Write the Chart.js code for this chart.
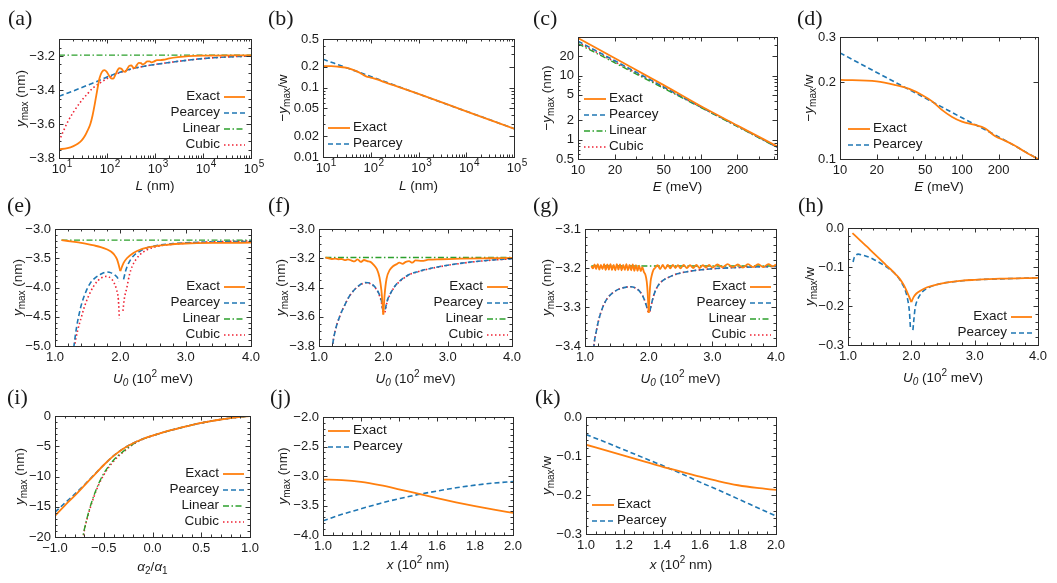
<!DOCTYPE html>
<html><head><meta charset="utf-8">
<script src="https://cdn.jsdelivr.net/npm/chart.js@4"></script>
<style>
html,body{margin:0;padding:0;background:#fff;}
body{width:1057px;height:583px;position:relative;overflow:hidden;}
canvas{position:absolute;}
</style></head><body>
<script>
// ---------------- DATA ----------------
// tick values / labels
const decTicks = [10, 100, 1000, 10000, 100000];
const decLabels = ['10','10','10','10','10'];
const decExp = ['1','2','3','4','5'];
const aYTicks = [-3.8,-3.6,-3.4,-3.2];
const aYLabels = ['−3.8','−3.6','−3.4','−3.2'];
const bYTicks = [0.01,0.02,0.05,0.1,0.2,0.5];
const bYLabels = ['0.01','0.02','0.05','0.1','0.2','0.5'];
const eTicks = [10,20,50,100,200];
const eLabels = ['10','20','50','100','200'];
const cYTicks = [0.5,1,2,5,10,20];
const cYLabels = ['0.5','1','2','5','10','20'];
const dYTicks = [0.1,0.2,0.3];
const dYLabels = ['0.1','0.2','0.3'];
const uTicks = [1,2,3,4];
const uLabels = ['1.0','2.0','3.0','4.0'];
const eYTicks = [-5,-4.5,-4,-3.5,-3];
const eYLabels = ['−5.0','−4.5','−4.0','−3.5','−3.0'];
const fYTicks = [-3.8,-3.6,-3.4,-3.2,-3.0];
const fYLabels = ['−3.8','−3.6','−3.4','−3.2','−3.0'];
const gYTicks = [-3.4,-3.3,-3.2,-3.1];
const gYLabels = ['−3.4','−3.3','−3.2','−3.1'];
const hYTicks = [-0.3,-0.2,-0.1,0];
const hYLabels = ['−0.3','−0.2','−0.1','0.0'];
const iXTicks = [-1,-0.5,0,0.5,1];
const iXLabels = ['−1.0','−0.5','0.0','0.5','1.0'];
const iYTicks = [-20,-15,-10,-5,0];
const iYLabels = ['−20','−15','−10','−5','0'];
const jXTicks = [1,1.2,1.4,1.6,1.8,2];
const jXLabels = ['1.0','1.2','1.4','1.6','1.8','2.0'];
const jYTicks = [-4,-3.5,-3,-2.5,-2];
const jYLabels = ['−4.0','−3.5','−3.0','−2.5','−2.0'];

// (a)
const aExact = [[10,-3.749],[15,-3.742],[20,-3.73],[25,-3.715],[30,-3.695],[35,-3.668],[40,-3.635],[45,-3.6],[50,-3.55],[55,-3.49],[60,-3.43],[65,-3.375],[70,-3.33],[78,-3.295],[88,-3.283],[98,-3.292],[110,-3.315],[122,-3.332],[135,-3.333],[150,-3.31],[165,-3.285],[180,-3.272],[200,-3.275],[220,-3.29],[240,-3.293],[265,-3.275],[290,-3.258],[320,-3.255],[350,-3.267],[380,-3.27],[420,-3.252],[460,-3.24],[510,-3.242],[560,-3.25],[620,-3.242],[690,-3.232],[770,-3.232],[860,-3.238],[960,-3.232],[1100,-3.224],[1300,-3.224],[1500,-3.222],[2000,-3.214],[3000,-3.207],[5000,-3.201],[10000,-3.198],[100000,-3.196]];
const aPearcey = [[10,-3.437],[20,-3.405],[30,-3.385],[50,-3.36],[70,-3.343],[100,-3.323],[150,-3.305],[200,-3.293],[300,-3.278],[600,-3.26],[1000,-3.25],[2000,-3.238],[5000,-3.224],[10000,-3.215],[30000,-3.206],[100000,-3.2]];
const aLinear = [[10,-3.195],[100000,-3.195]];
const aCubic = [[10,-3.70],[12,-3.65],[15,-3.59],[20,-3.53],[30,-3.46],[40,-3.42],[50,-3.39],[70,-3.36],[100,-3.333],[150,-3.308],[200,-3.295],[300,-3.279],[600,-3.26],[1000,-3.25],[2000,-3.238],[5000,-3.224],[10000,-3.215],[30000,-3.206],[100000,-3.2]];
// (b)
const bExact = [[10,0.204],[15,0.203],[20,0.2],[30,0.193],[40,0.183],[50,0.172],[60,0.162],[70,0.152],[80,0.145],[100,0.139],[130,0.132],[170,0.124],[220,0.116],[300,0.108],[500,0.0955],[1000,0.081],[10000,0.0455],[100000,0.0256]];
const bPearcey = [[10,0.256],[100,0.144],[1000,0.081],[10000,0.0455],[100000,0.0256]];
// (c)
const cExact = [[10,38.5],[20,18.6],[50,7.1],[100,3.35],[200,1.66],[420,0.79]];
const cPearcey = [[10,34.5],[20,17.0],[50,6.65],[100,3.27],[200,1.63],[420,0.77]];
const cLinear = [[10,31.5],[20,15.8],[50,6.35],[100,3.2],[200,1.6],[420,0.76]];
const cCubic = [[10,33],[20,16.4],[50,6.5],[100,3.24],[200,1.62],[420,0.77]];
// (d)
const dExact = [[10,0.204],[20,0.201],[28,0.195],[37,0.188],[47,0.178],[57,0.168],[68,0.156],[83,0.146],[100,0.140],[128,0.136],[154,0.132],[186,0.123],[225,0.118],[270,0.113],[325,0.107],[420,0.100]];
const dPearcey = [[10,0.26],[20,0.218],[50,0.173],[100,0.145],[200,0.122],[420,0.1]];
// (e)
const eExactL = [[1.1,-3.19],[1.2,-3.205],[1.3,-3.22],[1.4,-3.237],[1.5,-3.258],[1.6,-3.282],[1.7,-3.31],[1.8,-3.35],[1.85,-3.38],[1.9,-3.43],[1.95,-3.52],[2.0,-3.72]];
const eExactR = [[2.0,-3.72],[2.05,-3.58],[2.1,-3.5],[2.2,-3.41],[2.3,-3.355],[2.5,-3.3],[2.7,-3.27],[3.0,-3.248],[3.5,-3.237],[4.0,-3.234]];
const ePearceyL = [[1.26,-5.3],[1.29,-5.0],[1.33,-4.68],[1.37,-4.45],[1.41,-4.27],[1.47,-4.08],[1.54,-3.925],[1.61,-3.84],[1.69,-3.78],[1.79,-3.735],[1.86,-3.75],[1.92,-3.79],[1.96,-3.84],[1.98,-3.9]];
const ePearceyR = [[2.05,-3.86],[2.08,-3.72],[2.12,-3.6],[2.2,-3.46],[2.3,-3.38],[2.4,-3.325],[2.6,-3.275],[2.8,-3.25],[3.0,-3.235],[3.5,-3.22],[4.0,-3.212]];
const eLinear = [[1.1,-3.19],[4.0,-3.19]];
const eCubicL = [[1.27,-5.3],[1.3,-5.0],[1.35,-4.72],[1.4,-4.52],[1.45,-4.33],[1.52,-4.13],[1.59,-3.98],[1.66,-3.88],[1.74,-3.82],[1.8,-3.81],[1.86,-3.85],[1.9,-3.91],[1.94,-4.03],[1.97,-4.21],[1.985,-4.53]];
const eCubicR = [[2.04,-4.4],[2.06,-4.2],[2.1,-4.0],[2.14,-3.78],[2.18,-3.64],[2.24,-3.52],[2.3,-3.44],[2.4,-3.36],[2.56,-3.3],[2.8,-3.26],[3.0,-3.243],[3.5,-3.215],[4.0,-3.205]];
// (f)
const fExactL = [[1.1,-3.195],[1.15,-3.2],[1.2,-3.205],[1.25,-3.203],[1.3,-3.207],[1.35,-3.205],[1.4,-3.213],[1.45,-3.208],[1.5,-3.215],[1.55,-3.222],[1.6,-3.208],[1.65,-3.225],[1.7,-3.212],[1.75,-3.22],[1.8,-3.225],[1.85,-3.245],[1.9,-3.275],[1.94,-3.33],[1.97,-3.42],[2.0,-3.585]];
const fExactR = [[2.0,-3.585],[2.02,-3.45],[2.05,-3.34],[2.1,-3.28],[2.15,-3.255],[2.2,-3.242],[2.25,-3.23],[2.3,-3.238],[2.35,-3.225],[2.4,-3.22],[2.45,-3.23],[2.5,-3.215],[2.6,-3.218],[2.7,-3.21],[2.9,-3.207],[3.2,-3.203],[3.6,-3.2],[4.0,-3.198]];
const fPearceyL = [[1.18,-3.95],[1.21,-3.8],[1.25,-3.7],[1.32,-3.6],[1.4,-3.52],[1.48,-3.454],[1.55,-3.415],[1.63,-3.384],[1.72,-3.366],[1.8,-3.372],[1.87,-3.396],[1.93,-3.44],[1.97,-3.49],[1.99,-3.55]];
const fPearceyR = [[2.03,-3.55],[2.06,-3.49],[2.1,-3.45],[2.15,-3.41],[2.2,-3.38],[2.3,-3.34],[2.41,-3.31],[2.55,-3.29],[2.67,-3.276],[2.9,-3.255],[3.19,-3.235],[3.6,-3.215],[4.0,-3.203]];
const fLinear = [[1.1,-3.195],[4.0,-3.195]];
const fCubicL = [[1.18,-3.95],[1.21,-3.8],[1.25,-3.7],[1.32,-3.6],[1.4,-3.52],[1.48,-3.455],[1.55,-3.416],[1.63,-3.386],[1.72,-3.368],[1.8,-3.374],[1.87,-3.4],[1.93,-3.445],[1.97,-3.5],[1.995,-3.57]];
const fCubicR = [[2.025,-3.57],[2.06,-3.495],[2.1,-3.452],[2.15,-3.412],[2.2,-3.382],[2.3,-3.342],[2.41,-3.311],[2.55,-3.291],[2.67,-3.277],[2.9,-3.256],[3.19,-3.236],[3.6,-3.216],[4.0,-3.204]];
// (g)
const gExactL = [[1.1,-3.195],[1.125,-3.201],[1.15,-3.191],[1.175,-3.203],[1.2,-3.19],[1.225,-3.204],[1.25,-3.192],[1.275,-3.203],[1.3,-3.19],[1.325,-3.205],[1.35,-3.191],[1.375,-3.204],[1.4,-3.19],[1.425,-3.205],[1.45,-3.192],[1.475,-3.206],[1.5,-3.19],[1.525,-3.204],[1.55,-3.191],[1.575,-3.206],[1.6,-3.192],[1.625,-3.205],[1.65,-3.19],[1.675,-3.206],[1.7,-3.192],[1.725,-3.206],[1.75,-3.191],[1.775,-3.207],[1.8,-3.193],[1.825,-3.207],[1.85,-3.194],[1.875,-3.208],[1.9,-3.198],[1.925,-3.21],[1.95,-3.218],[1.97,-3.235],[1.985,-3.265],[2.0,-3.315]];
const gExactR = [[2.0,-3.315],[2.015,-3.265],[2.03,-3.235],[2.05,-3.218],[2.075,-3.205],[2.1,-3.2],[2.14,-3.193],[2.18,-3.203],[2.22,-3.192],[2.26,-3.202],[2.3,-3.192],[2.34,-3.201],[2.38,-3.192],[2.42,-3.2],[2.46,-3.193],[2.5,-3.201],[2.55,-3.192],[2.6,-3.2],[2.65,-3.193],[2.7,-3.2],[2.75,-3.192],[2.8,-3.2],[2.85,-3.193],[2.9,-3.199],[2.95,-3.192],[3.0,-3.199],[3.08,-3.191],[3.16,-3.198],[3.24,-3.19],[3.32,-3.198],[3.4,-3.191],[3.48,-3.199],[3.56,-3.19],[3.64,-3.198],[3.72,-3.19],[3.8,-3.198],[3.88,-3.19],[3.95,-3.196],[4.0,-3.191]];
const gPearceyL = [[1.12,-3.45],[1.14,-3.4],[1.18,-3.36],[1.22,-3.33],[1.28,-3.3],[1.35,-3.278],[1.45,-3.262],[1.55,-3.253],[1.65,-3.249],[1.72,-3.248],[1.8,-3.252],[1.87,-3.262],[1.93,-3.28],[1.97,-3.3],[1.99,-3.31]];
const gPearceyR = [[2.02,-3.31],[2.04,-3.295],[2.08,-3.27],[2.13,-3.25],[2.2,-3.235],[2.3,-3.225],[2.45,-3.215],[2.7,-3.207],[3.0,-3.202],[3.5,-3.198],[4.0,-3.196]];
const gLinear = [[1.1,-3.195],[4.0,-3.195]];
const gCubicL = [[1.12,-3.45],[1.14,-3.4],[1.18,-3.36],[1.22,-3.33],[1.28,-3.3],[1.35,-3.278],[1.45,-3.262],[1.55,-3.253],[1.65,-3.249],[1.72,-3.248],[1.8,-3.252],[1.87,-3.262],[1.93,-3.28],[1.97,-3.3],[1.99,-3.312]];
const gCubicR = [[2.02,-3.312],[2.04,-3.296],[2.08,-3.27],[2.13,-3.25],[2.2,-3.235],[2.3,-3.225],[2.45,-3.215],[2.7,-3.207],[3.0,-3.202],[3.5,-3.198],[4.0,-3.196]];
// (h)
const hExactL = [[1.07,-0.013],[1.2,-0.033],[1.3,-0.048],[1.4,-0.064],[1.5,-0.079],[1.6,-0.095],[1.7,-0.11],[1.76,-0.12],[1.82,-0.131],[1.88,-0.146],[1.93,-0.163],[1.97,-0.178],[2.0,-0.19]];
const hExactR = [[2.0,-0.19],[2.04,-0.176],[2.08,-0.168],[2.15,-0.16],[2.25,-0.152],[2.4,-0.145],[2.6,-0.139],[2.8,-0.135],[3.0,-0.133],[3.4,-0.13],[4.0,-0.128]];
const hPearceyL = [[1.08,-0.087],[1.1,-0.075],[1.13,-0.069],[1.16,-0.067],[1.22,-0.069],[1.3,-0.073],[1.4,-0.08],[1.5,-0.089],[1.6,-0.099],[1.7,-0.111],[1.76,-0.12],[1.82,-0.133],[1.87,-0.147],[1.92,-0.168],[1.95,-0.19],[1.97,-0.215],[1.985,-0.255]];
const hPearceyR = [[2.025,-0.262],[2.04,-0.235],[2.06,-0.205],[2.1,-0.183],[2.18,-0.163],[2.3,-0.151],[2.45,-0.143],[2.7,-0.137],[3.0,-0.133],[3.5,-0.13],[4.0,-0.128]];
// (i)
const iExact = [[-1,-16.5],[-0.9,-14.8],[-0.8,-13.2],[-0.7,-11.5],[-0.6,-9.8],[-0.5,-8.1],[-0.4,-6.6],[-0.3,-5.4],[-0.2,-4.5],[-0.1,-3.8],[0,-3.25],[0.1,-2.75],[0.2,-2.3],[0.3,-1.9],[0.4,-1.5],[0.5,-1.15],[0.6,-0.85],[0.7,-0.58],[0.8,-0.35],[0.9,-0.15],[1,0]];
const iPearcey = [[-1,-15.9],[-0.9,-14.4],[-0.8,-12.95],[-0.7,-11.4],[-0.6,-9.75],[-0.5,-8.1],[-0.4,-6.6],[-0.3,-5.4],[-0.2,-4.5],[-0.1,-3.8],[0,-3.25],[0.1,-2.75],[0.2,-2.3],[0.3,-1.9],[0.4,-1.5],[0.5,-1.15],[0.6,-0.85],[0.7,-0.58],[0.8,-0.35],[0.9,-0.15],[1,0]];
const iLinear = [[-0.73,-21],[-0.715,-20],[-0.7,-18.8],[-0.65,-15.6],[-0.6,-13.1],[-0.55,-11.1],[-0.5,-9.5],[-0.45,-8.3],[-0.4,-7.3],[-0.35,-6.5],[-0.3,-5.85],[-0.2,-4.65],[-0.1,-3.82],[0,-3.25],[0.1,-2.75],[0.2,-2.3],[0.3,-1.9],[0.4,-1.5],[0.5,-1.15],[0.6,-0.85],[0.7,-0.58],[0.8,-0.35],[0.9,-0.15],[1,0]];
const iCubic = [[-0.725,-21],[-0.71,-20],[-0.7,-19],[-0.65,-15.8],[-0.6,-13.3],[-0.55,-11.3],[-0.5,-9.75],[-0.45,-8.5],[-0.4,-7.5],[-0.35,-6.65],[-0.3,-5.95],[-0.2,-4.7],[-0.1,-3.84],[0,-3.25],[0.1,-2.75],[0.2,-2.3],[0.3,-1.9],[0.4,-1.5],[0.5,-1.15],[0.6,-0.85],[0.7,-0.58],[0.8,-0.35],[0.9,-0.15],[1,0]];
// (j)
const jExact = [[1.0,-3.06],[1.1,-3.07],[1.2,-3.1],[1.3,-3.155],[1.4,-3.225],[1.5,-3.3],[1.6,-3.375],[1.7,-3.445],[1.8,-3.51],[1.9,-3.57],[2.0,-3.625]];
const jPearcey = [[1.0,-3.76],[1.1,-3.65],[1.2,-3.555],[1.3,-3.465],[1.4,-3.385],[1.5,-3.315],[1.6,-3.255],[1.7,-3.2],[1.8,-3.155],[1.9,-3.12],[2.0,-3.095]];
// (k)
const kExact = [[1.0,-0.071],[1.1,-0.085],[1.2,-0.099],[1.3,-0.113],[1.4,-0.127],[1.5,-0.14],[1.6,-0.153],[1.7,-0.165],[1.8,-0.175],[1.9,-0.182],[2.0,-0.187]];
const kPearcey = [[1.0,-0.045],[1.1,-0.064],[1.2,-0.084],[1.3,-0.104],[1.4,-0.124],[1.5,-0.145],[1.6,-0.167],[1.7,-0.188],[1.8,-0.21],[1.9,-0.232],[2.0,-0.254]];

// ---------------- STYLE ----------------
const FAM = '"Liberation Sans", Arial, Helvetica, sans-serif';
const SERIF = '"Liberation Serif", "Times New Roman", serif';
const TXT = '#1a1a1a';
const TICKF = 13, TITLEF = 13.5, LEGF = 13.5;
const STY = {
  exact:{c:'#ff7f0e',w:1.8,d:[]},
  pearcey:{c:'#1f77b4',w:1.6,d:[5,3]},
  linear:{c:'#2ca02c',w:1.4,d:[6,2.5,1.5,2.5]},
  cubic:{c:'#ee2233',w:1.6,d:[1.5,2.5]}
};
const NAMES = {exact:'Exact',pearcey:'Pearcey',linear:'Linear',cubic:'Cubic'};
const ALL4 = ['exact','pearcey','linear','cubic'];
const TWO = ['exact','pearcey'];

const T_YNM = [{t:'y',i:1},{t:'max',sub:1},{t:' (nm)'}];
const T_MYW = [{t:'−'},{t:'y',i:1},{t:'max',sub:1},{t:'/w'}];
const T_MYNM = [{t:'−'},{t:'y',i:1},{t:'max',sub:1},{t:' (nm)'}];
const T_YW = [{t:'y',i:1},{t:'max',sub:1},{t:'/w'}];
const T_L = [{t:'L',i:1},{t:' (nm)'}];
const T_E = [{t:'E',i:1},{t:' (meV)'}];
const T_U = [{t:'U',i:1},{t:'0',sub:1,i:1},{t:' (10'},{t:'2',sup:1},{t:' meV)'}];
const T_A = [{t:'α',i:1},{t:'2',sub:1},{t:'/'},{t:'α',i:1},{t:'1',sub:1}];
const T_X = [{t:'x',i:1},{t:' (10'},{t:'2',sup:1},{t:' nm)'}];

const panels = [
 {lab:'(a)', lp:[8,19], box:[59,39,251,158],
  x:{log:1,min:10,max:1e5,ticks:decTicks,labels:decLabels,sup:decExp},
  y:{min:-3.8,max:-3.1,ticks:aYTicks,labels:aYLabels,minor:0.05},
  series:[['exact',aExact],['pearcey',aPearcey],['linear',aLinear],['cubic',aCubic]],
  leg:{right:1,keys:ALL4,x:220,y:96}, xt:T_L, xtY:186, yt:T_YNM, ytX:21},
 {lab:'(b)', lp:[268,19], box:[323,39,514,157],
  x:{log:1,min:10,max:1e5,ticks:decTicks,labels:decLabels,sup:decExp},
  y:{log:1,min:0.01,max:0.5,ticks:bYTicks,labels:bYLabels},
  series:[['exact',bExact],['pearcey',bPearcey]],
  leg:{right:0,keys:TWO,x:328,y:127}, xt:T_L, xtY:186, yt:T_MYW, ytX:283},
 {lab:'(c)', lp:[533,19], box:[578,37,777,159],
  x:{log:1,min:10,max:420,ticks:eTicks,labels:eLabels},
  y:{log:1,min:0.5,max:40,ticks:cYTicks,labels:cYLabels},
  series:[['exact',cExact],['pearcey',cPearcey],['linear',cLinear],['cubic',cCubic]],
  leg:{right:0,keys:ALL4,x:584,y:98}, xt:T_E, xtY:187, yt:T_MYNM, ytX:547},
 {lab:'(d)', lp:[797,19], box:[840,37,1038,159],
  x:{log:1,min:10,max:420,ticks:eTicks,labels:eLabels},
  y:{log:1,min:0.1,max:0.3,ticks:dYTicks,labels:dYLabels},
  series:[['exact',dExact],['pearcey',dPearcey]],
  leg:{right:0,keys:TWO,x:848,y:128}, xt:T_E, xtY:187, yt:T_MYW, ytX:809},
 {lab:'(e)', lp:[7,206], box:[55,229,251,346],
  x:{min:1,max:4,ticks:uTicks,labels:uLabels,minor:0.2},
  y:{min:-5,max:-3,ticks:eYTicks,labels:eYLabels,minor:0.1},
  series:[['exact',eExactL],['exact',eExactR],['pearcey',ePearceyL],['pearcey',ePearceyR],['linear',eLinear],['cubic',eCubicL],['cubic',eCubicR]],
  leg:{right:1,keys:ALL4,x:220,y:286}, xt:T_U, xtY:379, yt:T_YNM, ytX:18},
 {lab:'(f)', lp:[268,206], box:[319,229,512,346],
  x:{min:1,max:4,ticks:uTicks,labels:uLabels,minor:0.2},
  y:{min:-3.8,max:-3.0,ticks:fYTicks,labels:fYLabels,minor:0.05},
  series:[['exact',fExactL],['exact',fExactR],['pearcey',fPearceyL],['pearcey',fPearceyR],['linear',fLinear],['cubic',fCubicL],['cubic',fCubicR]],
  leg:{right:1,keys:ALL4,x:483,y:286}, xt:T_U, xtY:379, yt:T_YNM, ytX:281},
 {lab:'(g)', lp:[533,206], box:[585,229,776,346],
  x:{min:1,max:4,ticks:uTicks,labels:uLabels,minor:0.2},
  y:{min:-3.4,max:-3.1,ticks:gYTicks,labels:gYLabels,minor:0.02},
  series:[['exact',gExactL],['exact',gExactR],['pearcey',gPearceyL],['pearcey',gPearceyR],['linear',gLinear],['cubic',gCubicL],['cubic',gCubicR]],
  leg:{right:1,keys:ALL4,x:746,y:286}, xt:T_U, xtY:379, yt:T_YNM, ytX:547},
 {lab:'(h)', lp:[798,206], box:[848,228,1038,345],
  x:{min:1,max:4,ticks:uTicks,labels:uLabels,minor:0.2},
  y:{min:-0.3,max:0,ticks:hYTicks,labels:hYLabels,minor:0.02},
  series:[['exact',hExactL],['exact',hExactR],['pearcey',hPearceyL],['pearcey',hPearceyR]],
  leg:{right:1,keys:TWO,x:1007,y:316}, xt:T_U, xtY:378, yt:T_YW, ytX:810},
 {lab:'(i)', lp:[7,398], box:[55,416,250,537],
  x:{min:-1,max:1,ticks:iXTicks,labels:iXLabels,minor:0.1},
  y:{min:-20,max:0,ticks:iYTicks,labels:iYLabels,minor:1},
  series:[['exact',iExact],['pearcey',iPearcey],['linear',iLinear],['cubic',iCubic]],
  leg:{right:1,keys:ALL4,x:219,y:473}, xt:T_A, xtY:567, yt:T_YNM, ytX:20},
 {lab:'(j)', lp:[270,398], box:[323,417,513,535],
  x:{min:1,max:2,ticks:jXTicks,labels:jXLabels,minor:0.05},
  y:{min:-4,max:-2,ticks:jYTicks,labels:jYLabels,minor:0.1},
  series:[['exact',jExact],['pearcey',jPearcey]],
  leg:{right:0,keys:TWO,x:328,y:430}, xt:T_X, xtY:565, yt:T_YNM, ytX:283},
 {lab:'(k)', lp:[535,398], box:[586,417,776,534],
  x:{min:1,max:2,ticks:jXTicks,labels:jXLabels,minor:0.05},
  y:{min:-0.3,max:0,ticks:hYTicks,labels:hYLabels,minor:0.02},
  series:[['exact',kExact],['pearcey',kPearcey]],
  leg:{right:0,keys:TWO,x:592,y:504}, xt:T_X, xtY:565, yt:T_YW, ytX:547}
];

// ---------------- HELPERS ----------------
const PADL = 62, PADT = 40, PADR = 18, PADB = 45;

function minorVals(A) {
  const out = [];
  if (A.log) {
    const d0 = Math.floor(Math.log10(A.min)), d1 = Math.ceil(Math.log10(A.max));
    for (let d = d0; d <= d1; d++) for (let m = 2; m <= 9; m++) {
      const v = m * Math.pow(10, d);
      if (v > A.min * 1.0001 && v < A.max * 0.9999 && !A.ticks.some(t => Math.abs(t - v) / v < 1e-6)) out.push(v);
    }
  } else if (A.minor) {
    const n0 = Math.ceil(A.min / A.minor - 1e-6), n1 = Math.floor(A.max / A.minor + 1e-6);
    for (let n = n0; n <= n1; n++) {
      const v = n * A.minor;
      if (!A.ticks.some(t => Math.abs(t - v) < A.minor * 1e-3)) out.push(v);
    }
  }
  return out;
}

function drawRich(ctx, segs, cx, cy, F, rot) {
  ctx.save();
  ctx.translate(cx, cy);
  if (rot) ctx.rotate(-Math.PI / 2);
  let w = 0;
  const parts = segs.map(s => {
    const size = (s.sub || s.sup) ? Math.round(F * 0.72) : F;
    const font = (s.i ? 'italic ' : '') + size + 'px ' + FAM;
    ctx.font = font;
    const m = ctx.measureText(s.t).width;
    w += m;
    return {t: s.t, font, m, dy: s.sub ? F * 0.3 : (s.sup ? -F * 0.36 : 0)};
  });
  let xx = -w / 2;
  ctx.textBaseline = 'middle';
  ctx.textAlign = 'left';
  ctx.fillStyle = TXT;
  parts.forEach(p => { ctx.font = p.font; ctx.fillText(p.t, xx, p.dy); xx += p.m; });
  ctx.restore();
}

function makePlugin(P, ox, oy) {
  return {
    id: 'deco',
    afterDraw(chart) {
      const ctx = chart.ctx, ca = chart.chartArea;
      const sx = chart.scales.x, sy = chart.scales.y;
      ctx.save();
      // inward ticks on all four sides
      ctx.strokeStyle = '#333';
      ctx.lineWidth = 1;
      ctx.setLineDash([]);
      const L = Math.round(ca.left), R = Math.round(ca.right), T = Math.round(ca.top), B = Math.round(ca.bottom);
      const xt = (vals, len) => vals.forEach(v => {
        const p = Math.round(sx.getPixelForValue(v)) + 0.5;
        if (p < L || p > R + 1) return;
        ctx.beginPath(); ctx.moveTo(p, B); ctx.lineTo(p, B - len); ctx.moveTo(p, T); ctx.lineTo(p, T + len); ctx.stroke();
      });
      const yt = (vals, len) => vals.forEach(v => {
        const p = Math.round(sy.getPixelForValue(v)) + 0.5;
        if (p < T || p > B + 1) return;
        ctx.beginPath(); ctx.moveTo(L, p); ctx.lineTo(L + len, p); ctx.moveTo(R, p); ctx.lineTo(R - len, p); ctx.stroke();
      });
      xt(P.x.ticks, 4.5); xt(minorVals(P.x), 2.5);
      yt(P.y.ticks, 4.5); yt(minorVals(P.y), 2.5);
      // frame
      ctx.strokeStyle = '#2b2b2b';
      ctx.strokeRect(L + 0.5, T + 0.5, R - L, B - T);
      // superscript exponents for 10^n labels
      if (P.x.sup) {
        ctx.font = TICKF + 'px ' + FAM;
        const w10 = ctx.measureText('10').width;
        ctx.font = '10px ' + FAM;
        ctx.fillStyle = TXT; ctx.textAlign = 'left'; ctx.textBaseline = 'middle';
        P.x.ticks.forEach((v, i) => {
          const p = sx.getPixelForValue(v);
          ctx.fillText(P.x.sup[i], p + w10 / 2 + 0.5, B + 6);
        });
      }
      // axis titles
      drawRich(ctx, P.xt, (L + R) / 2, P.xtY - oy, TITLEF, false);
      drawRich(ctx, P.yt, P.ytX - ox, (T + B) / 2, TITLEF, true);
      // legend
      const G = P.leg;
      G.keys.forEach((k, i) => {
        const yy = G.y - oy + i * 16;
        const s = STY[k];
        let x0, x1;
        ctx.font = LEGF + 'px ' + FAM; ctx.fillStyle = TXT; ctx.textBaseline = 'middle';
        if (G.right) {
          ctx.textAlign = 'right';
          ctx.fillText(NAMES[k], G.x - ox, yy);
          x0 = G.x - ox + 4; x1 = G.x - ox + 25;
        } else {
          ctx.textAlign = 'left';
          ctx.fillText(NAMES[k], G.x - ox + 25, yy);
          x0 = G.x - ox; x1 = G.x - ox + 22;
        }
        ctx.strokeStyle = s.c; ctx.lineWidth = s.w; ctx.setLineDash(s.d);
        ctx.beginPath(); ctx.moveTo(x0, yy + 1); ctx.lineTo(x1, yy + 1); ctx.stroke();
        ctx.setLineDash([]);
      });
      // panel label
      ctx.font = '22px ' + SERIF; ctx.fillStyle = TXT; ctx.textAlign = 'left'; ctx.textBaseline = 'middle';
      ctx.fillText(P.lab, P.lp[0] - ox, P.lp[1] - oy);
      ctx.restore();
    }
  };
}

function axisCfg(A, isX) {
  return {
    type: A.log ? 'logarithmic' : 'linear',
    min: A.min, max: A.max,
    position: isX ? 'bottom' : 'left',
    bounds: 'data',
    grid: {display: false, drawTicks: false},
    border: {display: false},
    afterBuildTicks: s => { s.ticks = A.ticks.map(v => ({value: v})); },
    ticks: {
      autoSkip: false, maxRotation: 0, minRotation: 0,
      padding: isX ? 4 : 4, color: TXT,
      font: {family: FAM, size: TICKF},
      callback: (v, i) => A.labels[i]
    },
    afterFit: s => { if (isX) s.height = PADB; else s.width = PADL; }
  };
}

// ---------------- BUILD ----------------
panels.forEach(P => {
  const [l, t, r, b] = P.box;
  const ox = l - PADL, oy = t - PADT;
  const W = (r - l) + PADL + PADR, H = (b - t) + PADT + PADB;
  const cv = document.createElement('canvas');
  cv.width = W; cv.height = H;
  cv.style.left = ox + 'px'; cv.style.top = oy + 'px';
  cv.style.width = W + 'px'; cv.style.height = H + 'px';
  document.body.appendChild(cv);
  const datasets = P.series.map(([k, arr]) => ({
    label: NAMES[k],
    data: arr.map(p => ({x: p[0], y: p[1]})),
    borderColor: STY[k].c,
    borderWidth: STY[k].w,
    borderDash: STY[k].d,
    pointRadius: 0,
    fill: false,
    cubicInterpolationMode: 'monotone'
  }));
  new Chart(cv, {
    type: 'line',
    data: {datasets},
    options: {
      animation: false, responsive: false, devicePixelRatio: 1, events: [],
      layout: {padding: {left: 0, top: PADT, right: PADR, bottom: 0}},
      plugins: {legend: {display: false}, tooltip: {enabled: false}, title: {display: false}},
      scales: {x: axisCfg(P.x, true), y: axisCfg(P.y, false)}
    },
    plugins: [makePlugin(P, ox, oy)]
  });
});
</script>
</body></html>
